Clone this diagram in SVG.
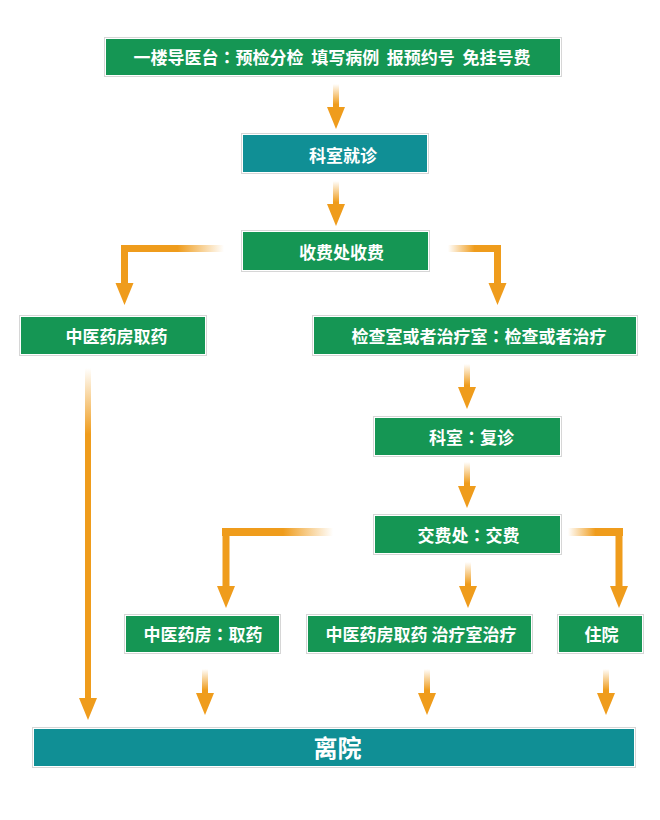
<svg xmlns="http://www.w3.org/2000/svg" xmlns:xlink="http://www.w3.org/1999/xlink" width="660" height="820" viewBox="0 0 660 820">
<style>
.frame{fill:#ffffff;stroke:#d6d6d6;stroke-width:1}
.g{fill:#159654}
.t{fill:#108f95}
.lbl{font-family:"Noto Sans CJK SC","Noto Sans",sans-serif;font-weight:bold;font-size:17px;fill:#ffffff;text-anchor:middle;white-space:pre}
.c{font-family:"Noto Sans CJK JP","Noto Sans CJK TC",sans-serif}
.big{font-size:24px}
.o{fill:#ef9c1c}
</style>
<defs>
<linearGradient id="fv" x1="0" y1="0" x2="0" y2="1">
<stop offset="0" stop-color="#ef9c1c" stop-opacity="0"/>
<stop offset="0.85" stop-color="#ef9c1c" stop-opacity="1"/>
</linearGradient>
<linearGradient id="fvl" x1="0" y1="0" x2="0" y2="1">
<stop offset="0" stop-color="#ef9c1c" stop-opacity="0"/>
<stop offset="0.2" stop-color="#ef9c1c" stop-opacity="1"/>
</linearGradient>
<linearGradient id="fr" x1="0" y1="0" x2="1" y2="0">
<stop offset="0.55" stop-color="#ef9c1c" stop-opacity="1"/>
<stop offset="1" stop-color="#ef9c1c" stop-opacity="0"/>
</linearGradient>
<linearGradient id="fl" x1="0" y1="0" x2="1" y2="0">
<stop offset="0" stop-color="#ef9c1c" stop-opacity="0"/>
<stop offset="0.5" stop-color="#ef9c1c" stop-opacity="1"/>
</linearGradient>
<path id="head" d="M-9,0 L9,0 L0,22 Z"/>
</defs>

<g id="connectors">
<rect x="333" y="84" width="6" height="24" fill="url(#fv)"/>
<use xlink:href="#head" x="336" y="107" class="o"/>
<rect x="333" y="181" width="6" height="25" fill="url(#fv)"/>
<use xlink:href="#head" x="336" y="204" class="o"/>
<rect x="121" y="245" width="103" height="7" fill="url(#fr)"/>
<rect x="121" y="245" width="7" height="40" class="o"/>
<use xlink:href="#head" x="124.5" y="283" class="o"/>
<rect x="448" y="245" width="53" height="7" fill="url(#fl)"/>
<rect x="494" y="245" width="7" height="40" class="o"/>
<use xlink:href="#head" x="497.5" y="283" class="o"/>
<rect x="85" y="368" width="6" height="332" fill="url(#fvl)"/>
<use xlink:href="#head" x="88" y="698" class="o"/>
<rect x="464" y="364" width="6" height="25" fill="url(#fv)"/>
<use xlink:href="#head" x="467" y="387" class="o"/>
<rect x="464" y="462" width="6" height="25" fill="url(#fv)"/>
<use xlink:href="#head" x="467" y="486" class="o"/>
<rect x="222" y="528" width="111" height="8" fill="url(#fr)"/>
<rect x="222.5" y="528" width="7" height="60" class="o"/>
<use xlink:href="#head" x="226" y="586" class="o"/>
<rect x="465" y="562" width="6" height="26" fill="url(#fv)"/>
<use xlink:href="#head" x="468" y="586" class="o"/>
<rect x="568" y="528" width="55" height="8" fill="url(#fl)"/>
<rect x="615.5" y="528" width="7" height="60" class="o"/>
<use xlink:href="#head" x="619" y="586" class="o"/>
<rect x="202" y="669" width="6" height="25" fill="url(#fv)"/>
<use xlink:href="#head" x="205" y="693" class="o"/>
<rect x="424" y="669" width="6" height="25" fill="url(#fv)"/>
<use xlink:href="#head" x="427" y="693" class="o"/>
<rect x="603" y="669" width="6" height="25" fill="url(#fv)"/>
<use xlink:href="#head" x="606" y="693" class="o"/>
</g>

<g id="n1">
<rect class="frame" x="104.5" y="37.5" width="457" height="39"/>
<rect class="g" x="106" y="39" width="454" height="36"/>
<text class="lbl" x="332" y="64" xml:space="preserve">一楼导医台<tspan class="c">：</tspan>预检分检  填写病例  报预约号  免挂号费</text>
</g>
<g id="n2">
<rect class="frame" x="241.5" y="133.5" width="187" height="40"/>
<rect class="t" x="243" y="135" width="184" height="37"/>
<text class="lbl" x="343" y="162">科室就诊</text>
</g>
<g id="n3">
<rect class="frame" x="241.5" y="230.5" width="188" height="41"/>
<rect class="g" x="243" y="232" width="185" height="38"/>
<text class="lbl" x="341.5" y="259">收费处收费</text>
</g>
<g id="n4">
<rect class="frame" x="19.5" y="315.5" width="187" height="40"/>
<rect class="g" x="21" y="317" width="184" height="37"/>
<text class="lbl" x="116.5" y="343">中医药房取药</text>
</g>
<g id="n5">
<rect class="frame" x="312.5" y="315.5" width="325" height="40"/>
<rect class="g" x="314" y="317" width="322" height="37"/>
<text class="lbl" x="479" y="343">检查室或者治疗室<tspan class="c">：</tspan>检查或者治疗</text>
</g>
<g id="n6">
<rect class="frame" x="373.5" y="416.5" width="188" height="40"/>
<rect class="g" x="375" y="418" width="185" height="37"/>
<text class="lbl" x="471.5" y="444">科室<tspan class="c">：</tspan>复诊</text>
</g>
<g id="n7">
<rect class="frame" x="373.5" y="514.5" width="188" height="40"/>
<rect class="g" x="375" y="516" width="185" height="37"/>
<text class="lbl" x="468.5" y="542">交费处<tspan class="c">：</tspan>交费</text>
</g>
<g id="n8">
<rect class="frame" x="124.5" y="614.5" width="156" height="39"/>
<rect class="g" x="126" y="616" width="153" height="36"/>
<text class="lbl" x="203" y="641">中医药房<tspan class="c">：</tspan>取药</text>
</g>
<g id="n9">
<rect class="frame" x="306.5" y="614.5" width="226" height="39"/>
<rect class="g" x="308" y="616" width="223" height="36"/>
<text class="lbl" x="421" y="641">中医药房取药 治疗室治疗</text>
</g>
<g id="n10">
<rect class="frame" x="557.5" y="614.5" width="86" height="39"/>
<rect class="g" x="559" y="616" width="83" height="36"/>
<text class="lbl" x="601.5" y="641">住院</text>
</g>
<g id="n11">
<rect class="frame" x="32.5" y="727.5" width="603" height="40"/>
<rect class="t" x="34" y="729" width="600" height="37"/>
<text class="lbl big" x="337.5" y="757">离院</text>
</g>
</svg>
